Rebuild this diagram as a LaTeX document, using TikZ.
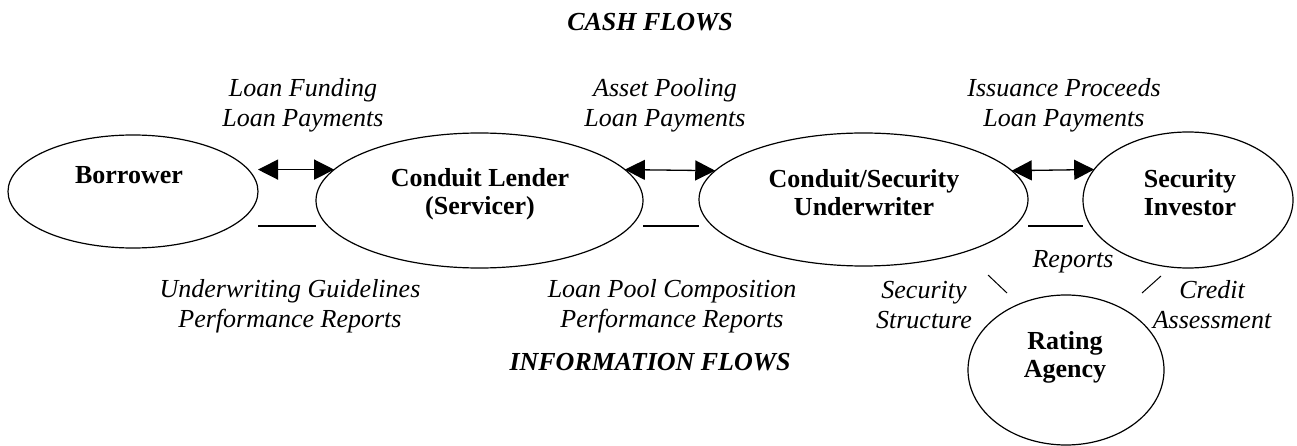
\documentclass[tikz,border=0pt]{standalone}
\usepackage{fontspec}
\setmainfont{Liberation Serif}
\usetikzlibrary{shapes.geometric,arrows.meta,calc}
\begin{document}
\begin{tikzpicture}[x=1pt,y=-1pt,
  every node/.style={inner sep=0pt, outer sep=0pt},
  party/.style={draw, ellipse, line width=1.2pt},
  partytext/.style={font=\fontsize{26}{28}\selectfont\bfseries, align=center},
  flowlabel/.style={font=\fontsize{26}{30}\selectfont\itshape, align=center},
  heading/.style={font=\fontsize{26}{30}\selectfont\bfseries\itshape},
  cash/.style={{Triangle[length=20pt,width=20pt]}-{Triangle[length=20pt,width=20pt]}, line width=1.3pt},
  info/.style={line width=1.3pt}]
\useasboundingbox (0,0) rectangle (1297,446);

% parties
\node[party, minimum width=250pt, minimum height=113pt] (borrower) at (133,191.5) {};
\node[party, minimum width=327pt, minimum height=135pt] (lender) at (479.5,200.5) {};
\node[party, minimum width=329pt, minimum height=133pt] (under) at (863.5,199.5) {};
\node[party, minimum width=210pt, minimum height=136pt] (investor) at (1188,200) {};
\node[party, minimum width=196pt, minimum height=150pt] (rating) at (1066,370) {};

\node[partytext] (borrowerText) at (129,175) {Borrower};
\node[partytext] (lenderText) at (480,194) {Conduit Lender\\(Servicer)};
\node[partytext] (underText) at (864,193) {Conduit/Security\\Underwriter};
\node[partytext] (investorText) at (1190,193) {Security\\Investor};
\node[partytext] (ratingText) at (1065,357) {Rating\\Agency};

% headings
\node[heading] (cashHead) at (650,22) {CASH FLOWS};
\node[heading] (infoHead) at (650,362) {INFORMATION FLOWS};

% cash flow arrows
\draw[cash] (borrower.east |- lender.168) -- (lender.168);
\draw[cash] (lender.12) -- (under.169);
\draw[cash] (under.11) -- (investor.162);

% information flow lines
\coordinate (infoY) at (0,226);
\draw[info] (borrower.east |- infoY) -- (lender.west |- infoY);
\draw[info] (lender.east |- infoY) -- (under.west |- infoY);
\draw[info] (under.east |- infoY) -- (investor.west |- infoY);

\coordinate (s1) at (988,275);
\coordinate (s2) at (1007,293);
\coordinate (c1) at (1142,293);
\coordinate (c2) at (1161,276);
\draw[line width=1pt] (s1) -- (s2);
\draw[line width=1pt] (c1) -- (c2);

% labels
\node[flowlabel] (lab1) at (303,105) {Loan Funding\\Loan Payments};
\node[flowlabel] (lab2) at (665,105) {Asset Pooling\\Loan Payments};
\node[flowlabel] (lab3) at (1064,105) {Issuance Proceeds\\Loan Payments};
\node[flowlabel] (lab4) at (290,306) {Underwriting Guidelines\\Performance Reports};
\node[flowlabel] (lab5) at (672,306) {Loan Pool Composition\\Performance Reports};
\node[flowlabel] (lab6) at (1073,262) {Reports};
\node[flowlabel] (lab7) at (924,305) {Security\\Structure};
\node[flowlabel] (lab8) at (1212,305) {Credit\\Assessment};
\end{tikzpicture}
\end{document}
